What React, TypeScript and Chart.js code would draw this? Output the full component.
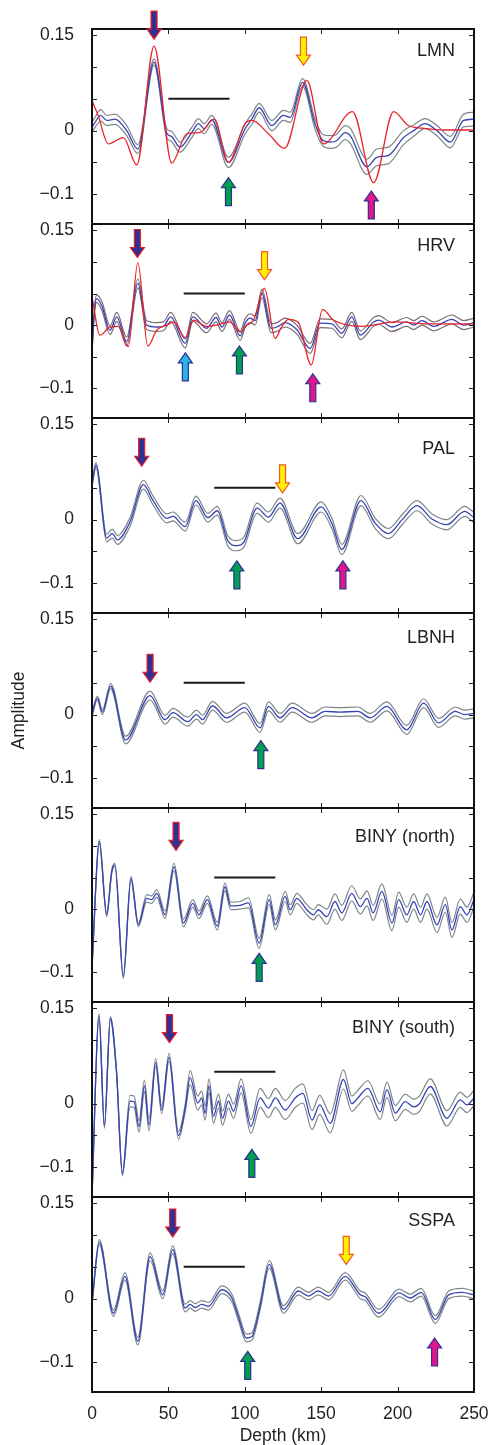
import React, { useEffect, useRef } from 'react';
import { Chart, registerables } from 'chart.js';

Chart.register(...registerables);

// ---------- axes ----------
const depthTicks = [0, 50, 100, 150, 200, 250];
const ampTicks = [-0.1, -0.05, 0, 0.05, 0.1, 0.15];
const ampLabelled = [0.15, 0, -0.1];

// ---------- LMN ----------
const lmnDepth = [0, 2, 5.7, 9.6, 15, 22.7, 30, 40.6, 49, 52, 57.6, 65.3, 69.7, 73.4, 78.4, 89.3, 100.2, 104.6, 109.4, 117.7, 125.3, 129.7, 137.8, 146, 151, 155.9, 160, 165.7, 169, 179.9, 186.4, 194, 203.9, 210.5, 218, 225.8, 234.5, 243.2, 250];
const lmnAmp = [0.005, 0.013, 0.024, 0.016, 0.018, 0, -0.029, 0.108, -0.004, -0.009, -0.026, -0.003, 0.011, 0.003, 0.017, -0.05, 0.003, 0.018, 0.036, 0.008, 0.024, 0.021, 0.076, 0.01, -0.015, -0.018, -0.016, -0.003, -0.008, -0.057, -0.042, -0.039, -0.011, 0, 0.011, 0, -0.018, 0.016, 0.018];
const lmnSpread = [0.008, 0.008, 0.009, 0.008, 0.008, 0.008, 0.007, 0.005, 0.007, 0.008, 0.008, 0.008, 0.008, 0.008, 0.007, 0.008, 0.008, 0.008, 0.007, 0.008, 0.008, 0.008, 0.006, 0.008, 0.009, 0.01, 0.01, 0.011, 0.012, 0.012, 0.013, 0.013, 0.011, 0.009, 0.008, 0.008, 0.009, 0.01, 0.011];
const lmnRedDepth = [0, 4, 10.7, 20.5, 29.3, 40.6, 52.2, 62, 70.7, 80, 89.3, 100.2, 104.6, 115.5, 126, 140.6, 151.5, 170.5, 184.3, 197.4, 207, 215.9, 231, 250];
const lmnRedAmp = [0.047, 0.024, -0.021, -0.011, -0.054, 0.133, -0.051, -0.005, -0.003, 0.018, -0.05, 0.011, 0.016, -0.005, -0.028, 0.079, -0.021, 0.03, -0.082, 0.03, 0.008, 0.004, 0.001, 0.001];
const lmnArrowDepth = [40.6, 138.4, 89.3, 182.8];
const lmnArrowAmp = [0.144, 0.103, -0.074, -0.095];
const lmnArrowKind = ['red', 'yellow', 'green', 'magenta'];

// ---------- HRV ----------
const hrvDepth = [0, 1.5, 3, 6.5, 11.8, 16.2, 22.7, 30, 35.8, 42.4, 46.7, 51.5, 61, 66, 75, 81.2, 85, 90, 97, 100.2, 103.5, 106.8, 111.2, 117.2, 121, 126.4, 134, 142.8, 149.3, 157, 163.5, 170, 175.6, 184.3, 187.6, 196.3, 206, 210.5, 216, 223.6, 235.6, 243.2, 250];
const hrvAmp = [-0.04, 0.02, 0.042, 0.03, -0.008, 0.013, -0.026, 0.066, 0, -0.003, -0.002, 0.013, -0.029, 0.013, -0.005, 0.012, -0.003, 0.016, -0.017, 0.003, 0.011, 0.007, 0.05, -0.005, -0.003, 0.004, -0.007, -0.037, 0.003, 0.002, -0.013, 0.013, -0.016, 0.005, 0.008, -0.003, 0.005, 0, 0.007, -0.002, 0.009, 0, 0.004];
const hrvSpread = [0.003, 0.005, 0.006, 0.007, 0.007, 0.007, 0.007, 0.007, 0.007, 0.007, 0.007, 0.007, 0.007, 0.007, 0.007, 0.007, 0.007, 0.007, 0.007, 0.007, 0.007, 0.007, 0.007, 0.007, 0.007, 0.007, 0.007, 0.008, 0.007, 0.007, 0.007, 0.007, 0.007, 0.007, 0.007, 0.007, 0.007, 0.007, 0.007, 0.007, 0.007, 0.007, 0.007];
const hrvRedDepth = [0, 5.2, 11.8, 17, 23.8, 30, 36.5, 42.4, 49, 53.7, 61, 66.4, 75, 81.6, 90, 97.4, 100.2, 105.7, 112.9, 119.9, 124, 128.6, 135, 143.5, 150.9, 158, 176.6, 198.5, 220, 250];
const hrvRedAmp = [0.045, -0.016, -0.003, -0.002, -0.034, 0.099, -0.033, -0.008, 0, 0.005, -0.02, 0.008, -0.002, 0, 0.005, -0.011, -0.002, 0.008, 0.058, -0.021, -0.003, 0.009, 0.004, -0.063, 0.025, 0.008, -0.002, 0.005, 0.002, 0.002];
const hrvArrowDepth = [29.7, 112.9, 61.1, 96.5, 144.5];
const hrvArrowAmp = [0.107, 0.072, -0.044, -0.033, -0.077];
const hrvArrowKind = ['red', 'yellow', 'cyan', 'green', 'magenta'];

// ---------- PAL ----------
const palDepth = [0, 2.6, 9.6, 13.3, 16.6, 25, 33.6, 40, 49, 53, 61, 68, 75.8, 82, 89, 94.8, 99.5, 108, 115.5, 123, 134.7, 150, 157, 163.5, 176, 185.4, 194, 203, 212.7, 222.5, 232.3, 243.9, 250];
const palAmp = [0.055, 0.086, -0.029, -0.022, -0.032, -0.003, 0.055, 0.03, 0.002, 0.005, -0.011, 0.03, 0.003, 0.014, -0.034, -0.041, -0.035, 0.018, 0.004, 0.026, -0.03, 0.02, -0.006, -0.047, 0.03, -0.006, -0.022, 0, 0.022, 0.001, -0.008, 0.013, 0.003];
const palSpread = [0.003, 0.004, 0.006, 0.007, 0.007, 0.007, 0.007, 0.007, 0.007, 0.007, 0.007, 0.007, 0.007, 0.007, 0.008, 0.008, 0.008, 0.008, 0.008, 0.008, 0.008, 0.008, 0.008, 0.008, 0.008, 0.008, 0.008, 0.008, 0.008, 0.008, 0.008, 0.008, 0.008];
const palArrowDepth = [32.5, 124.7, 94.8, 164.2];
const palArrowAmp = [0.084, 0.042, -0.065, -0.065];
const palArrowKind = ['red', 'yellow', 'green', 'magenta'];

// ---------- LBNH ----------
const lbnhDepth = [0, 3.5, 6.8, 12.2, 22, 38, 47.8, 53, 62.7, 68.5, 72.3, 78.8, 88, 100, 110, 115.5, 123, 131, 144, 152.6, 162, 174, 182, 193, 206, 217, 226.8, 237.8, 244, 250];
const lbnhAmp = [0, 0.026, 0.004, 0.045, -0.04, 0.03, -0.008, 0.003, -0.011, 0, -0.008, 0.014, -0.005, 0.011, -0.021, 0.013, -0.005, 0.011, -0.005, 0.005, 0.004, 0.005, -0.005, 0.013, -0.024, 0.018, -0.013, 0.005, 0, 0.002];
const lbnhSpread = [0.003, 0.003, 0.004, 0.004, 0.006, 0.007, 0.007, 0.007, 0.007, 0.007, 0.007, 0.007, 0.007, 0.007, 0.007, 0.007, 0.007, 0.007, 0.007, 0.007, 0.007, 0.007, 0.007, 0.007, 0.007, 0.007, 0.007, 0.007, 0.007, 0.007];
const lbnhArrowDepth = [38, 110.5];
const lbnhArrowAmp = [0.051, -0.041];
const lbnhArrowKind = ['red', 'green'];

// ---------- BINY (north) ----------
const binyNDepth = [0, 4.8, 9.6, 12.9, 15, 20.5, 25.5, 30.3, 35.8, 39, 42.4, 47.8, 53.7, 59.8, 66, 70, 75.5, 82, 87, 90.8, 97, 102.4, 109.4, 116, 120, 126.4, 129.7, 134, 140.6, 145, 148, 153.7, 159, 163.5, 170, 175.6, 180, 184, 189.7, 196.3, 200.7, 206, 210.5, 215, 219.2, 225.8, 231.2, 235.6, 241, 245.4, 250];
const binyNAmp = [-0.091, 0.107, -0.009, 0.059, 0.07, -0.107, 0.049, -0.025, 0.017, 0.015, 0.025, -0.009, 0.067, -0.022, 0.009, -0.009, 0.015, -0.027, 0.035, 0.005, 0.006, 0.01, -0.054, 0.015, -0.025, 0.02, -0.001, 0.017, -0.001, -0.009, -0.001, -0.012, 0.012, -0.006, 0.025, 0.004, 0.017, -0.006, 0.028, -0.022, 0.015, -0.009, 0.012, -0.009, 0.012, -0.025, 0.007, -0.033, 0.004, -0.009, 0.015];
const binyNSpread = [0.003, 0.003, 0.003, 0.003, 0.003, 0.003, 0.003, 0.003, 0.006, 0.006, 0.006, 0.006, 0.006, 0.006, 0.006, 0.006, 0.006, 0.006, 0.006, 0.006, 0.006, 0.008, 0.008, 0.008, 0.008, 0.008, 0.008, 0.008, 0.008, 0.008, 0.008, 0.012, 0.012, 0.012, 0.012, 0.012, 0.012, 0.012, 0.012, 0.012, 0.012, 0.012, 0.012, 0.012, 0.012, 0.012, 0.012, 0.012, 0.012, 0.012, 0.012];
const binyNArrowDepth = [55, 109.4];
const binyNArrowAmp = [0.093, -0.07];
const binyNArrowKind = ['red', 'green'];

// ---------- BINY (south) ----------
const binySDepth = [0, 4.6, 8.1, 12, 16, 19.9, 24.9, 27.5, 30.8, 34.3, 37.3, 41.7, 45.6, 50.4, 56.6, 61, 64.2, 69.2, 71.8, 74, 76.6, 79.5, 82.8, 85.4, 89.3, 92.6, 97.6, 104, 110, 115.5, 120, 126.4, 133, 138, 144, 149, 155.9, 164.6, 170, 174, 180.6, 188.6, 193, 198.5, 205, 210.5, 214, 221.4, 232.3, 241, 245.4, 250];
const binySAmp = [-0.145, 0.139, -0.036, 0.134, 0.052, -0.111, 0.004, 0.003, -0.036, 0.028, -0.034, 0.065, -0.01, 0.073, -0.05, -0.007, 0.041, 0.001, 0.009, -0.015, 0.028, -0.02, 0.004, -0.023, 0.004, -0.012, 0.028, -0.036, 0.009, -0.007, 0.009, -0.01, 0.009, 0.016, -0.026, -0.002, -0.031, 0.038, 0, 0.009, 0.024, -0.013, 0.022, -0.015, 0.003, -0.005, -0.001, 0.027, -0.023, 0.006, -0.002, 0.009];
const binySSpread = [0.003, 0.003, 0.003, 0.003, 0.003, 0.003, 0.009, 0.009, 0.009, 0.009, 0.009, 0.006, 0.006, 0.006, 0.006, 0.006, 0.011, 0.011, 0.011, 0.011, 0.011, 0.011, 0.011, 0.011, 0.011, 0.011, 0.011, 0.011, 0.015, 0.015, 0.015, 0.015, 0.015, 0.015, 0.015, 0.015, 0.015, 0.015, 0.012, 0.012, 0.012, 0.012, 0.012, 0.012, 0.012, 0.012, 0.012, 0.012, 0.012, 0.012, 0.012, 0.012];
const binySArrowDepth = [50.7, 104.6];
const binySArrowAmp = [0.096, -0.072];
const binySArrowKind = ['red', 'green'];

// ---------- SSPA ----------
const sspaDepth = [0, 4.8, 14, 21.6, 30, 38, 46.3, 52.8, 61, 64.2, 67.5, 71.8, 76.2, 85, 91.5, 96, 101, 104.5, 110, 116, 125.3, 135, 141.7, 148, 154.8, 165.7, 175.6, 178.8, 187.6, 201, 208.3, 215.5, 224.7, 233.4, 242.2, 250];
const sspaAmp = [-0.007, 0.089, -0.023, 0.035, -0.067, 0.066, 0.006, 0.077, -0.015, -0.009, -0.014, -0.009, -0.012, 0.014, 0.001, -0.03, -0.062, -0.06, -0.012, 0.054, -0.017, 0.012, 0.004, 0.012, 0.004, 0.035, 0.006, 0.003, -0.023, 0.009, 0.001, 0.01, -0.033, 0.006, 0.01, 0.006];
const sspaSpread = [0.003, 0.004, 0.005, 0.006, 0.006, 0.006, 0.006, 0.006, 0.006, 0.006, 0.006, 0.006, 0.006, 0.006, 0.006, 0.006, 0.006, 0.006, 0.006, 0.006, 0.006, 0.006, 0.006, 0.006, 0.006, 0.006, 0.006, 0.006, 0.006, 0.006, 0.006, 0.006, 0.006, 0.006, 0.006, 0.006];
const sspaArrowDepth = [52.8, 166.4, 101.9, 224.2];
const sspaArrowAmp = [0.097, 0.054, -0.083, -0.062];
const sspaArrowKind = ['red', 'yellow', 'green', 'magenta'];

// scale bars (depth range at amplitude 0.05)
const barDepths = [[50, 90], [60, 100], [80, 120], [60, 100], [80, 120], [80, 120], [60, 100]];
const barAmp = 0.05;

// ---------- layout / style ----------
const FONT = "'Liberation Sans', Arial, Helvetica, sans-serif";
const TEXT = '#231f20';
const BLUE = '#3444b4';
const GRAY = '#7f8489';
const HRV_GRAY = '#7b6a72';
const RED = '#e8232b';
const panelTops = [29, 224, 418, 613, 808, 1002, 1197];
const plotBottom = 1392;
const PAGE_H = 1445;

const arrowStyle: Record<string, { fill: string; stroke: string; down: boolean }> = {
  red: { fill: '#2e3192', stroke: '#ed1c24', down: true },
  yellow: { fill: '#fff200', stroke: '#f15a24', down: true },
  green: { fill: '#009e4f', stroke: '#2e3192', down: false },
  magenta: { fill: '#e0168a', stroke: '#2e3192', down: false },
  cyan: { fill: '#2bb3e6', stroke: '#2e3192', down: false },
};

type PanelDef = {
  name: string;
  depth: number[];
  amp: number[];
  spread: number[];
  redDepth?: number[];
  redAmp?: number[];
  arrowDepth: number[];
  arrowAmp: number[];
  arrowKind: string[];
  labelAmp: number;
  gray: string;
};

const panels: PanelDef[] = [
  { name: 'LMN', depth: lmnDepth, amp: lmnAmp, spread: lmnSpread, redDepth: lmnRedDepth, redAmp: lmnRedAmp, arrowDepth: lmnArrowDepth, arrowAmp: lmnArrowAmp, arrowKind: lmnArrowKind, labelAmp: 0.126, gray: GRAY },
  { name: 'HRV', depth: hrvDepth, amp: hrvAmp, spread: hrvSpread, redDepth: hrvRedDepth, redAmp: hrvRedAmp, arrowDepth: hrvArrowDepth, arrowAmp: hrvArrowAmp, arrowKind: hrvArrowKind, labelAmp: 0.125, gray: HRV_GRAY },
  { name: 'PAL', depth: palDepth, amp: palAmp, spread: palSpread, arrowDepth: palArrowDepth, arrowAmp: palArrowAmp, arrowKind: palArrowKind, labelAmp: 0.111, gray: GRAY },
  { name: 'LBNH', depth: lbnhDepth, amp: lbnhAmp, spread: lbnhSpread, arrowDepth: lbnhArrowDepth, arrowAmp: lbnhArrowAmp, arrowKind: lbnhArrowKind, labelAmp: 0.12, gray: GRAY },
  { name: 'BINY (north)', depth: binyNDepth, amp: binyNAmp, spread: binyNSpread, arrowDepth: binyNArrowDepth, arrowAmp: binyNArrowAmp, arrowKind: binyNArrowKind, labelAmp: 0.114, gray: GRAY },
  { name: 'BINY (south)', depth: binySDepth, amp: binySAmp, spread: binySSpread, arrowDepth: binySArrowDepth, arrowAmp: binySArrowAmp, arrowKind: binySArrowKind, labelAmp: 0.119, gray: GRAY },
  { name: 'SSPA', depth: sspaDepth, amp: sspaAmp, spread: sspaSpread, arrowDepth: sspaArrowDepth, arrowAmp: sspaArrowAmp, arrowKind: sspaArrowKind, labelAmp: 0.122, gray: GRAY },
];

function drawArrow(ctx: CanvasRenderingContext2D, x: number, y: number, kind: string) {
  const s = arrowStyle[kind];
  const len = 28, headH = 10, headW = 7, shaftW = 3;
  const d = s.down ? -1 : 1; // body direction from tip
  ctx.beginPath();
  ctx.moveTo(x, y);
  ctx.lineTo(x - headW, y + d * headH);
  ctx.lineTo(x - shaftW, y + d * headH);
  ctx.lineTo(x - shaftW, y + d * len);
  ctx.lineTo(x + shaftW, y + d * len);
  ctx.lineTo(x + shaftW, y + d * headH);
  ctx.lineTo(x + headW, y + d * headH);
  ctx.closePath();
  ctx.fillStyle = s.fill;
  ctx.fill();
  ctx.lineWidth = 1.2;
  ctx.strokeStyle = s.stroke;
  ctx.lineJoin = 'miter';
  ctx.stroke();
}

function Panel({ p, index }: { p: PanelDef; index: number }) {
  const ref = useRef<HTMLCanvasElement>(null);
  const isLast = index === panels.length - 1;
  const top = panelTops[index];
  const bottom = isLast ? plotBottom : panelTops[index + 1];
  const padTop = Math.min(30, top);
  const padBottom = isLast ? 0 : 30;
  const canvasTop = top - padTop;
  const canvasH = isLast ? PAGE_H - canvasTop : bottom - top + padTop + padBottom;

  useEffect(() => {
    if (!ref.current) return;
    const line = (xs: number[], ys: number[]) => xs.map((x, i) => ({ x, y: ys[i] }));
    const datasets: any[] = [];
    datasets.push({
      data: [
        { x: barDepths[index][0], y: barAmp },
        { x: barDepths[index][1], y: barAmp },
      ],
      borderColor: '#1a1a1a',
      borderWidth: 2,
      pointRadius: 0,
      tension: 0,
      clip: 0,
    });
    if (p.redDepth && p.redAmp) {
      datasets.push({
        data: line(p.redDepth, p.redAmp),
        borderColor: RED,
        borderWidth: 1.3,
        pointRadius: 0,
        cubicInterpolationMode: 'monotone',
        clip: 0,
      });
    }
    datasets.push({
      data: line(p.depth, p.amp),
      borderColor: BLUE,
      borderWidth: 1.3,
      pointRadius: 0,
      cubicInterpolationMode: 'monotone',
      clip: 0,
    });
    datasets.push({
      data: p.depth.map((x, i) => ({ x, y: p.amp[i] + p.spread[i] })),
      borderColor: p.gray,
      borderWidth: 1.2,
      pointRadius: 0,
      cubicInterpolationMode: 'monotone',
      clip: 0,
    });
    datasets.push({
      data: p.depth.map((x, i) => ({ x, y: p.amp[i] - p.spread[i] })),
      borderColor: p.gray,
      borderWidth: 1.2,
      pointRadius: 0,
      cubicInterpolationMode: 'monotone',
      clip: 0,
    });

    const decor = {
      id: 'decor' + index,
      afterDraw(chart: any) {
        const { ctx, chartArea: a, scales } = chart;
        const xs = scales.x;
        const ys = scales.y;
        ctx.save();
        ctx.strokeStyle = TEXT;
        ctx.lineWidth = 1;
        const tl = 5;
        for (const t of depthTicks) {
          const px = Math.round(xs.getPixelForValue(t)) + 0.5;
          ctx.beginPath();
          ctx.moveTo(px, a.top);
          ctx.lineTo(px, a.top + tl);
          ctx.moveTo(px, a.bottom);
          ctx.lineTo(px, a.bottom - tl);
          ctx.stroke();
        }
        for (const t of ampTicks) {
          const py = Math.round(ys.getPixelForValue(t)) + 0.5;
          ctx.beginPath();
          ctx.moveTo(a.left, py);
          ctx.lineTo(a.left + tl, py);
          ctx.moveTo(a.right, py);
          ctx.lineTo(a.right - tl, py);
          ctx.stroke();
        }
        ctx.lineWidth = 2;
        ctx.strokeStyle = '#111';
        ctx.strokeRect(a.left, a.top, a.right - a.left, a.bottom - a.top);
        ctx.font = `18px ${FONT}`;
        ctx.fillStyle = TEXT;
        ctx.textAlign = 'right';
        ctx.textBaseline = 'middle';
        ctx.fillText(p.name, a.right - 19, ys.getPixelForValue(p.labelAmp));
        p.arrowDepth.forEach((d, i) => {
          drawArrow(ctx, xs.getPixelForValue(d), ys.getPixelForValue(p.arrowAmp[i]), p.arrowKind[i]);
        });
        ctx.restore();
      },
    };

    const chart = new Chart(ref.current, {
      type: 'line',
      data: { datasets },
      plugins: [decor],
      options: {
        responsive: false,
        maintainAspectRatio: false,
        animation: false,
        events: [],
        layout: { padding: { top: padTop, bottom: padBottom, left: 0, right: 16 } },
        plugins: { legend: { display: false }, tooltip: { enabled: false }, title: { display: false } },
        scales: {
          x: {
            type: 'linear',
            min: 0,
            max: 250,
            display: isLast,
            afterBuildTicks: (s: any) => {
              s.ticks = depthTicks.map((v) => ({ value: v }));
            },
            afterFit: (s: any) => {
              if (isLast) s.height = PAGE_H - plotBottom;
              s.paddingLeft = 0;
              s.paddingRight = 0;
            },
            ticks: {
              autoSkip: false,
              maxRotation: 0,
              padding: 4,
              color: TEXT,
              font: { family: FONT, size: 17.5 },
            },
            grid: { display: false },
            border: { display: false },
            title: {
              display: isLast,
              text: 'Depth (km)',
              color: TEXT,
              padding: 0,
              font: { family: FONT, size: 17.5, lineHeight: 1 },
            },
          },
          y: {
            type: 'linear',
            min: -0.147,
            max: 0.16,
            afterBuildTicks: (s: any) => {
              s.ticks = ampTicks.map((v) => ({ value: v }));
            },
            afterFit: (s: any) => {
              s.width = 92;
              s.paddingTop = 0;
              s.paddingBottom = 0;
            },
            ticks: {
              autoSkip: false,
              padding: 10,
              color: TEXT,
              font: { family: FONT, size: 17.5 },
              callback: (v: any) => {
                const n = Number(v);
                if (!ampLabelled.some((l) => Math.abs(l - n) < 1e-9)) return '';
                if (Math.abs(n) < 1e-9) return '0';
                return n < 0 ? '\u2212' + String(Math.abs(n)) : String(n);
              },
            },
            grid: { display: false },
            border: { display: false },
            title: {
              display: index === 3,
              text: 'Amplitude',
              color: TEXT,
              padding: { top: 9, bottom: 0 },
              font: { family: FONT, size: 17.5 },
            },
          },
        },
      } as any,
    });
    return () => chart.destroy();
  }, []);

  return (
    <canvas
      ref={ref}
      width={490}
      height={canvasH}
      style={{ position: 'absolute', left: 0, top: canvasTop, width: 490, height: canvasH, display: 'block' }}
    />
  );
}

export default function App() {
  return (
    <div style={{ position: 'absolute', left: 0, top: 0, width: 490, height: PAGE_H, background: '#fff', overflow: 'hidden' }}>
      {panels.map((p, i) => (
        <Panel key={p.name} p={p} index={i} />
      ))}
    </div>
  );
}
